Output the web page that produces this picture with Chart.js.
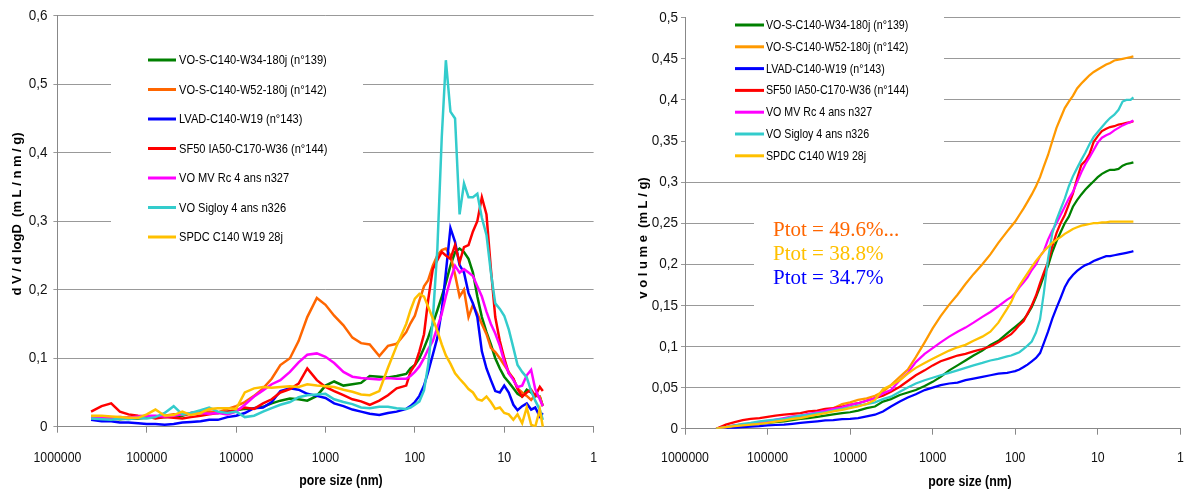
<!DOCTYPE html>
<html><head><meta charset="utf-8">
<script src="https://cdn.jsdelivr.net/npm/chart.js@4.4.1/dist/chart.umd.min.js"></script>
<style>
html,body{margin:0;padding:0;background:#fff;width:1184px;height:493px;overflow:hidden;}
#l{position:absolute;left:0;top:0;width:600px;height:493px;}
#r{position:absolute;left:600px;top:0;width:584px;height:493px;}
canvas{display:block;}
</style></head><body>
<div id="l"><canvas id="cl" width="600" height="493"></canvas></div>
<div id="r"><canvas id="cr" width="584" height="493"></canvas></div>
<script>
// ---------- data ----------
const poreSize = [420000, 320000, 250000, 200000, 160000, 125000, 100000, 80000, 63000, 50000, 40000, 32000, 25000, 20000, 16000, 12500, 10000,
  8000, 6300, 5000, 4000, 3200, 2500, 2000, 1600, 1250, 1000, 800, 630, 500, 400, 320, 250, 200, 160, 125,
  112, 100, 89, 79, 71, 63, 56, 50, 45, 40, 35.5, 31.6, 28.2, 25.1, 22.4, 20, 17.8, 15.8, 14.1, 12.6, 11.2, 10, 8.9, 7.9, 7.1, 6.3, 5.6, 5, 4.5, 4, 3.7];

const seriesNames = ["VO-S-C140-W34-180j (n°139)", "VO-S-C140-W52-180j (n°142)", "LVAD-C140-W19 (n°143)", "SF50 IA50-C170-W36 (n°144)", "VO MV Rc 4 ans n327", "VO Sigloy 4 ans n326", "SPDC C140 W19 28j"];

const xTickValues = [1, 10, 100, 1000, 10000, 100000, 1000000];
const yTicksLeft = [0, 0.1, 0.2, 0.3, 0.4, 0.5, 0.6];
const yTicksRight = [0, 0.05, 0.1, 0.15, 0.2, 0.25, 0.3, 0.35, 0.4, 0.45, 0.5];

// dV/dlogD (mL/nm/g)
const dv139 = [0.013, 0.012, 0.012, 0.011, 0.012, 0.012, 0.013, 0.013, 0.014, 0.015, 0.016, 0.02, 0.022, 0.021, 0.02, 0.022, 0.024,
  0.026, 0.027, 0.029, 0.034, 0.038, 0.041, 0.04, 0.038, 0.045, 0.06, 0.066, 0.06, 0.062, 0.064, 0.074, 0.073, 0.072, 0.074, 0.077,
  0.085, 0.09, 0.1, 0.115, 0.13, 0.15, 0.17, 0.19, 0.21, 0.235, 0.255, 0.26, 0.255, 0.245, 0.225, 0.19, 0.16, 0.138, 0.12, 0.1, 0.085, 0.073, 0.065, 0.056, 0.048, 0.044, 0.054, 0.05, 0.045, 0.044, 0.03];
const dv142 = [0.014, 0.013, 0.013, 0.012, 0.014, 0.013, 0.014, 0.015, 0.016, 0.018, 0.017, 0.019, 0.02, 0.022, 0.021, 0.026, 0.03,
  0.036, 0.045, 0.056, 0.07, 0.09, 0.1, 0.125, 0.16, 0.188, 0.178, 0.162, 0.148, 0.13, 0.122, 0.12, 0.103, 0.118, 0.121, 0.138,
  0.151, 0.162, 0.184, 0.205, 0.214, 0.235, 0.25, 0.258, 0.26, 0.25, 0.222, 0.19, 0.2, 0.16, 0.178, 0.165, 0.15, 0.135, 0.115, 0.109, 0.1, 0.09, 0.08, 0.07, 0.056, 0.05, 0.045, 0.039, 0.047, 0.044, 0.03];
const dv143 = [0.01, 0.008, 0.008, 0.006, 0.006, 0.005, 0.004, 0.004, 0.003, 0.004, 0.006, 0.007, 0.008, 0.01, 0.01, 0.014, 0.016,
  0.02, 0.027, 0.028, 0.036, 0.052, 0.056, 0.054, 0.048, 0.045, 0.042, 0.034, 0.03, 0.025, 0.022, 0.019, 0.017, 0.02, 0.022, 0.026,
  0.03, 0.036, 0.045, 0.06, 0.08, 0.105, 0.13, 0.17, 0.225, 0.29, 0.27, 0.236, 0.225, 0.195, 0.18, 0.16, 0.11, 0.085, 0.068, 0.052, 0.05, 0.06, 0.05, 0.032, 0.024, 0.03, 0.034, 0.025, 0.028, 0.015, 0.02];
const dv144 = [0.022, 0.03, 0.034, 0.022, 0.018, 0.016, 0.015, 0.012, 0.014, 0.013, 0.012, 0.014, 0.016, 0.018, 0.02, 0.022, 0.024,
  0.028, 0.026, 0.034, 0.04, 0.05, 0.055, 0.063, 0.085, 0.068, 0.058, 0.052, 0.046, 0.04, 0.037, 0.032, 0.038, 0.046, 0.056, 0.06,
  0.08, 0.09, 0.11, 0.135, 0.185, 0.23, 0.243, 0.255, 0.25, 0.245, 0.265, 0.24, 0.262, 0.265, 0.285, 0.3, 0.335, 0.31, 0.23, 0.16, 0.125, 0.1, 0.078, 0.07, 0.055, 0.044, 0.05, 0.054, 0.045, 0.058, 0.052];
const dv327 = [0.015, 0.014, 0.013, 0.014, 0.013, 0.015, 0.016, 0.016, 0.015, 0.016, 0.018, 0.02, 0.02, 0.019, 0.02, 0.018, 0.022,
  0.032, 0.044, 0.053, 0.062, 0.068, 0.08, 0.094, 0.105, 0.107, 0.102, 0.093, 0.08, 0.073, 0.071, 0.07, 0.069, 0.071, 0.07, 0.07,
  0.074, 0.08, 0.088, 0.1, 0.113, 0.125, 0.145, 0.165, 0.19, 0.215, 0.235, 0.225, 0.23, 0.225, 0.22, 0.205, 0.19, 0.168, 0.15, 0.136, 0.118, 0.095, 0.078, 0.068, 0.058, 0.06, 0.075, 0.083, 0.055, 0.04, 0.03];
const dv326 = [0.012, 0.011, 0.01, 0.012, 0.011, 0.013, 0.012, 0.014, 0.02, 0.03, 0.018, 0.02, 0.024, 0.028, 0.022, 0.02, 0.022,
  0.014, 0.016, 0.022, 0.027, 0.032, 0.036, 0.043, 0.046, 0.047, 0.048, 0.04, 0.036, 0.033, 0.028, 0.027, 0.029, 0.029, 0.027, 0.026,
  0.028, 0.032, 0.037, 0.053, 0.09, 0.156, 0.26, 0.423, 0.535, 0.46, 0.45, 0.31, 0.355, 0.335, 0.335, 0.34, 0.305, 0.28, 0.225, 0.18, 0.172, 0.162, 0.142, 0.115, 0.09, 0.08, 0.072, 0.052, 0.038, 0.025, 0.01];
const dvSPDC = [0.016, 0.016, 0.015, 0.014, 0.013, 0.013, 0.018, 0.025, 0.016, 0.017, 0.022, 0.017, 0.02, 0.026, 0.027, 0.027, 0.026,
  0.05, 0.056, 0.058, 0.057, 0.058, 0.059, 0.058, 0.062, 0.06, 0.059, 0.058, 0.054, 0.051, 0.047, 0.046, 0.052, 0.086, 0.118, 0.15,
  0.17, 0.187, 0.194, 0.19, 0.175, 0.158, 0.14, 0.12, 0.104, 0.092, 0.078, 0.07, 0.063, 0.055, 0.05, 0.04, 0.038, 0.044, 0.036, 0.026, 0.028, 0.02, 0.018, 0.01, 0.018, 0.005, 0.028, 0.003, 0, 0.025, 0];

// cumulative volume (mL/g)
const vol139 = [0, 0.001, 0.003, 0.004, 0.005, 0.006, 0.007, 0.008, 0.009, 0.0105, 0.012, 0.013, 0.0145, 0.016, 0.0175, 0.019, 0.02,
  0.022, 0.025, 0.027, 0.033, 0.036, 0.041, 0.044, 0.047, 0.052, 0.057, 0.063, 0.071, 0.077, 0.083, 0.089, 0.095, 0.102, 0.107, 0.116,
  0.12, 0.124, 0.128, 0.133, 0.139, 0.148, 0.16, 0.173, 0.186, 0.198, 0.215, 0.228, 0.239, 0.25, 0.258, 0.27, 0.278, 0.285, 0.291, 0.296, 0.301, 0.306, 0.31, 0.313, 0.315, 0.315, 0.316, 0.32, 0.322, 0.323, 0.324];
const vol142 = [0, 0.002, 0.004, 0.005, 0.006, 0.008, 0.009, 0.01, 0.012, 0.013, 0.015, 0.017, 0.019, 0.021, 0.025, 0.03, 0.032,
  0.035, 0.037, 0.04, 0.045, 0.053, 0.063, 0.072, 0.087, 0.105, 0.122, 0.137, 0.151, 0.163, 0.176, 0.188, 0.2, 0.212, 0.226, 0.24,
  0.246, 0.252, 0.26, 0.268, 0.276, 0.285, 0.295, 0.306, 0.319, 0.333, 0.35, 0.366, 0.378, 0.39, 0.398, 0.405, 0.414, 0.42, 0.425, 0.43, 0.434, 0.437, 0.44, 0.443, 0.445, 0.448, 0.449, 0.45, 0.451, 0.452, 0.453];
const vol143 = [0, 0, 0.001, 0.002, 0.0025, 0.003, 0.004, 0.0045, 0.005, 0.006, 0.007, 0.008, 0.009, 0.01, 0.0105, 0.0115, 0.012,
  0.013, 0.015, 0.017, 0.021, 0.027, 0.033, 0.038, 0.042, 0.047, 0.05, 0.053, 0.055, 0.056, 0.059, 0.061, 0.063, 0.065, 0.067, 0.068,
  0.069, 0.07, 0.072, 0.075, 0.078, 0.082, 0.086, 0.092, 0.104, 0.118, 0.134, 0.147, 0.159, 0.172, 0.181, 0.187, 0.192, 0.196, 0.199, 0.201, 0.204, 0.206, 0.208, 0.21, 0.21, 0.211, 0.212, 0.213, 0.214, 0.215, 0.216];
const vol144 = [0, 0.005, 0.008, 0.0105, 0.012, 0.013, 0.0145, 0.016, 0.017, 0.018, 0.019, 0.021, 0.022, 0.024, 0.025, 0.027, 0.029,
  0.031, 0.034, 0.037, 0.04, 0.045, 0.051, 0.058, 0.065, 0.071, 0.077, 0.082, 0.0856, 0.089, 0.091, 0.094, 0.097, 0.1, 0.105, 0.112,
  0.115, 0.12, 0.126, 0.131, 0.14, 0.15, 0.162, 0.177, 0.19, 0.203, 0.222, 0.238, 0.25, 0.26, 0.273, 0.286, 0.304, 0.321, 0.326, 0.334, 0.349, 0.356, 0.362, 0.365, 0.367, 0.368, 0.37, 0.371, 0.372, 0.373, 0.374];
const vol327 = [0, 0.002, 0.004, 0.005, 0.006, 0.008, 0.009, 0.011, 0.013, 0.015, 0.016, 0.018, 0.02, 0.022, 0.024, 0.026, 0.029,
  0.031, 0.034, 0.037, 0.043, 0.047, 0.059, 0.068, 0.081, 0.091, 0.098, 0.105, 0.112, 0.118, 0.123, 0.129, 0.136, 0.142, 0.149, 0.157,
  0.16, 0.165, 0.172, 0.178, 0.184, 0.193, 0.2, 0.21, 0.216, 0.23, 0.241, 0.25, 0.26, 0.27, 0.28, 0.288, 0.3, 0.312, 0.322, 0.33, 0.339, 0.348, 0.354, 0.357, 0.359, 0.363, 0.366, 0.369, 0.371, 0.373, 0.375];
const vol326 = [0, 0.002, 0.004, 0.006, 0.007, 0.009, 0.01, 0.011, 0.012, 0.014, 0.016, 0.017, 0.019, 0.02, 0.022, 0.024, 0.026,
  0.028, 0.03, 0.032, 0.036, 0.039, 0.045, 0.05, 0.055, 0.059, 0.062, 0.065, 0.068, 0.071, 0.074, 0.077, 0.08, 0.083, 0.085, 0.088,
  0.089, 0.091, 0.093, 0.097, 0.101, 0.106, 0.117, 0.133, 0.165, 0.207, 0.238, 0.254, 0.267, 0.28, 0.295, 0.307, 0.317, 0.327, 0.336, 0.346, 0.355, 0.361, 0.367, 0.373, 0.378, 0.382, 0.388, 0.398, 0.4, 0.4, 0.403];
const volSPDC = [0, 0.002, 0.003, 0.004, 0.005, 0.006, 0.007, 0.0085, 0.01, 0.012, 0.013, 0.015, 0.017, 0.019, 0.021, 0.023, 0.025,
  0.027, 0.03, 0.035, 0.048, 0.053, 0.059, 0.067, 0.074, 0.08, 0.085, 0.09, 0.095, 0.099, 0.102, 0.107, 0.112, 0.118, 0.129, 0.146,
  0.154, 0.165, 0.174, 0.182, 0.189, 0.197, 0.204, 0.21, 0.216, 0.221, 0.226, 0.23, 0.233, 0.237, 0.24, 0.243, 0.245, 0.247, 0.248, 0.249, 0.25, 0.25, 0.251, 0.251, 0.252, 0.252, 0.252, 0.252, 0.252, 0.252, 0.252];

const ptotLabels = ["Ptot = 49.6%...", "Ptot = 38.8%", "Ptot = 34.7%"];

// ---------- styles ----------
const colorsLeft  = ["#008000", "#FF6600", "#0000FF", "#FF0000", "#FF00FF", "#33CCCC", "#FFC000"];
const colorsRight = ["#008000", "#FF9900", "#0000FF", "#FF0000", "#FF00FF", "#33CCCC", "#FFC000"];
const ptotColors = ["#FF6600", "#FFC000", "#0000FF"];
const SANS = '"Liberation Sans", Arial, sans-serif';

function comma(v) { return String(Math.round(v * 100) / 100).replace('.', ','); }

function makeDatasets(seriesList, colors, width) {
  return seriesList.map((vals, i) => ({
    label: seriesNames[i],
    data: poreSize.map((d, j) => ({ x: d, y: vals[j] })),
    borderColor: colors[i],
    backgroundColor: colors[i],
    borderWidth: width,
    pointRadius: 0,
    tension: 0,
    fill: false,
    order: seriesList.length - i
  }));
}

// horizontally condensed sans text (imitates the narrow original font)
const condense = {
  id: 'condense',
  beforeInit(chart) {
    const ctx = chart.ctx;
    const orig = ctx.fillText.bind(ctx);
    ctx.fillText = function (text, x, y, maxWidth) {
      if (ctx.__plain) return maxWidth === undefined ? orig(text, x, y) : orig(text, x, y, maxWidth);
      const f = ctx.textAlign === 'right' ? 0.9 : 0.82;
      ctx.save(); ctx.translate(x, y); ctx.scale(f, 1); orig(text, 0, 0); ctx.restore();
    };
  }
};

const decor = {
  id: 'decor',
  beforeDatasetsDraw(chart, args, o) {
    const ctx = chart.ctx;
    ctx.save();
    (o.boxes || []).forEach(b => { ctx.fillStyle = '#fff'; ctx.fillRect(b[0], b[1], b[2], b[3]); });
    const L = o.legend;
    if (L) {
      ctx.font = L.font; ctx.textBaseline = 'middle'; ctx.textAlign = 'left';
      chart.data.datasets.forEach((ds, i) => {
        const y = L.y0 + i * L.dy;
        ctx.strokeStyle = ds.borderColor; ctx.lineWidth = 3;
        ctx.beginPath(); ctx.moveTo(L.x0, y); ctx.lineTo(L.x1, y); ctx.stroke();
        ctx.fillStyle = '#000';
        ctx.fillText(ds.label, L.tx, y + 0.5);
      });
    }
    ctx.__plain = true;
    (o.texts || []).forEach(t => {
      ctx.font = t.font; ctx.fillStyle = t.color; ctx.textBaseline = 'middle'; ctx.textAlign = 'left';
      ctx.fillText(t.text, t.x, t.y);
    });
    ctx.__plain = false;
    ctx.restore();
  },
  afterDraw(chart, args, o) {
    const ctx = chart.ctx;
    ctx.save();
    ctx.fillStyle = '#000'; ctx.textAlign = 'center'; ctx.textBaseline = 'middle';
    ctx.font = 'bold 15px ' + SANS;
    ctx.fillText(o.xTitle.text, o.xTitle.x, o.xTitle.y);
    ctx.__plain = true;
    ctx.translate(o.yTitle.x, o.yTitle.y);
    ctx.rotate(-Math.PI / 2);
    ctx.font = 'bold 13px ' + SANS;
    ctx.fillText(o.yTitle.text, 0, 0);
    ctx.__plain = false;
    ctx.restore();
  }
};

function makeOptions(cfg) {
  return {
    responsive: false,
    animation: false,
    devicePixelRatio: 1,
    layout: { padding: { left: 0, right: cfg.padRight, top: cfg.padTop, bottom: 0 } },
    plugins: {
      legend: { display: false },
      tooltip: { enabled: false },
      decor: cfg.decor
    },
    scales: {
      x: {
        type: 'logarithmic',
        reverse: true,
        min: 1, max: 1000000,
        afterBuildTicks: (s) => { s.ticks = xTickValues.map(v => ({ value: v })); },
        afterFit: (s) => { s.height = cfg.xHeight; },
        ticks: {
          autoSkip: false, maxRotation: 0, padding: cfg.xPad,
          color: '#111', font: { family: SANS, size: 15 },
          callback: (v) => String(v)
        },
        grid: { drawOnChartArea: false, drawTicks: true, tickLength: 6, color: '#888' },
        border: { display: true, color: '#888', width: 1 }
      },
      y: {
        min: 0, max: cfg.yMax,
        afterFit: (s) => { s.width = cfg.yWidth; },
        afterBuildTicks: (s) => { s.ticks = cfg.yTicks.map(v => ({ value: v })); },
        ticks: {
          padding: cfg.yPad, color: '#111', font: { family: SANS, size: 15 },
          callback: (v) => comma(v)
        },
        grid: { color: '#999999', lineWidth: 1, tickLength: 4 },
        border: { display: true, color: '#888', width: 1 }
      }
    }
  };
}

new Chart(document.getElementById('cl'), {
  type: 'line',
  data: { datasets: makeDatasets([dv139, dv142, dv143, dv144, dv327, dv326, dvSPDC], colorsLeft, 2.5) },
  options: makeOptions({
    padRight: 6.4, padTop: 15.7, xHeight: 66.3, yWidth: 57.4, yMax: 0.6, yTicks: yTicksLeft, yPad: 6, xPad: 16,
    decor: {
      boxes: [[111, 42, 252, 212]],
      legend: { x0: 148, x1: 176, tx: 179, y0: 60, dy: 29.5, font: '13.5px ' + SANS },
      texts: [],
      xTitle: { text: 'pore size (nm)', x: 341, y: 481 },
      yTitle: { text: 'd V / d logD  (m L / n m / g)', x: 17, y: 214 }
    }
  }),
  plugins: [condense, decor]
});

new Chart(document.getElementById('cr'), {
  type: 'line',
  data: { datasets: makeDatasets([vol139, vol142, vol143, vol144, vol327, vol326, volSPDC], colorsRight, 2.25) },
  options: makeOptions({
    padRight: 3.7, padTop: 17.7, xHeight: 64.3, yWidth: 85, yMax: 0.5, yTicks: yTicksRight, yPad: 3, xPad: 14,
    decor: {
      boxes: [[86, 8, 258, 160], [154, 206, 169, 111]],
      legend: { x0: 135, x1: 164, tx: 166, y0: 25, dy: 21.8, font: '13px ' + SANS },
      texts: ptotLabels.map((t, i) => ({ text: t, color: ptotColors[i], x: 173, y: 230 + i * 24.3, font: '21px "Liberation Serif", "Times New Roman", serif' })),
      xTitle: { text: 'pore size (nm)', x: 370, y: 482 },
      yTitle: { text: 'v o l u m e  (m L / g)', x: 43, y: 238 }
    }
  }),
  plugins: [condense, decor]
});
</script>
</body></html>
